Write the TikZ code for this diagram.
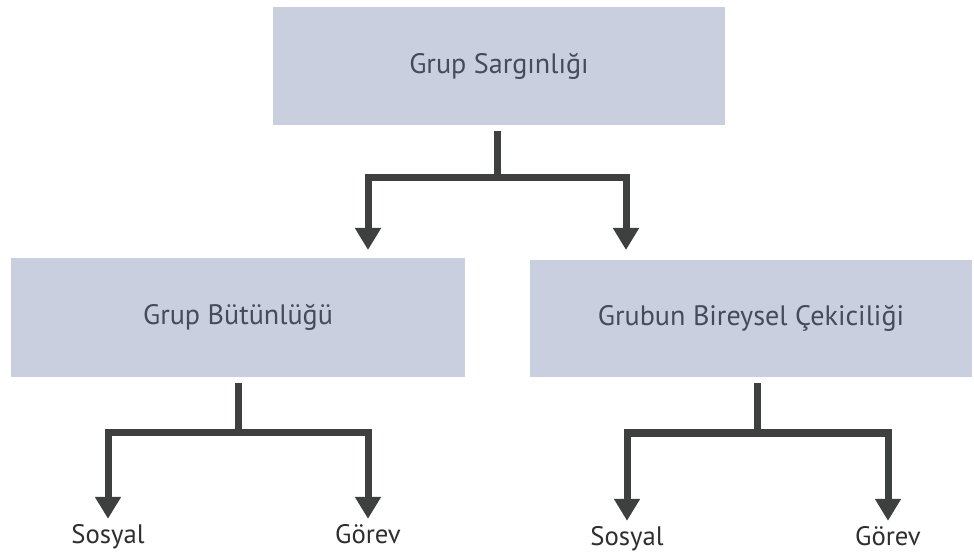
\documentclass[tikz,border=0pt]{standalone}
\usepackage{fontspec}
\setmainfont{PT Sans}
\usepackage{tikz}
\usetikzlibrary{arrows.meta}
\definecolor{boxfill}{HTML}{C9CFDF}
\definecolor{boxtext}{HTML}{434B5C}
\definecolor{linkgray}{HTML}{3D403F}
\definecolor{labeltext}{HTML}{2E2E2E}

\begin{document}
\begin{tikzpicture}[
        box/.style={fill=boxfill, draw=none, text=boxtext, inner sep=0pt,
                font=\fontsize{20}{24}\selectfont},
        leaf/.style={text=labeltext, anchor=base, inner sep=3pt,
                text height=14pt, text depth=4pt, font=\fontsize{19}{22}\selectfont},
        link/.style={draw=linkgray, line width=0.175cm, line join=miter},
        linkto/.style={link, -{Triangle[width=0.62cm,length=0.55cm]}}]
        \useasboundingbox (0cm, 0cm) rectangle (24.350000cm, 13.875000cm);
        \node (top) [box, minimum width=11.300000cm, minimum height=2.950000cm] at (12.475000cm, 12.225000cm) {Grup Sargınlığı};
        \node (lbox) [box, minimum width=11.350000cm, minimum height=2.975000cm] at (5.950000cm, 5.937500cm) {Grup Bütünlüğü};
        \node (rbox) [box, minimum width=11.050000cm, minimum height=2.925000cm] at (18.775000cm, 5.912500cm) {Grubun Bireysel Çekiciliği};
        \node (s1) [leaf] at (2.700000cm, 0.300000cm) {Sosyal};
        \node (g1) [leaf] at (9.200000cm, 0.300000cm) {Görev};
        \node (s2) [leaf] at (15.675000cm, 0.250000cm) {Sosyal};
        \node (g2) [leaf] at (22.200000cm, 0.250000cm) {Görev};
        \coordinate (j0) at (12.425000cm, 9.425000cm);
        \coordinate (t1) at (9.200000cm, 7.625000cm);
        \coordinate (t2) at (15.650000cm, 7.625000cm);
        \coordinate (j1) at (5.950000cm, 3.075000cm);
        \coordinate (j2) at (18.925000cm, 3.050000cm);
        \draw [link, shorten <=0.15cm] (top.south -| j0) -- (j0);
        \draw [linkto] (j0) -| (t1);
        \draw [linkto] (j0) -| (t2);
        \draw [link, shorten <=0.15cm] (lbox.south -| j1) -- (j1);
        \draw [linkto] (j1) -| (s1);
        \draw [linkto] (j1) -| (g1);
        \draw [link, shorten <=0.15cm] (rbox.south -| j2) -- (j2);
        \draw [linkto] (j2) -| (s2);
        \draw [linkto] (j2) -| (g2);
\end{tikzpicture}
\end{document}
